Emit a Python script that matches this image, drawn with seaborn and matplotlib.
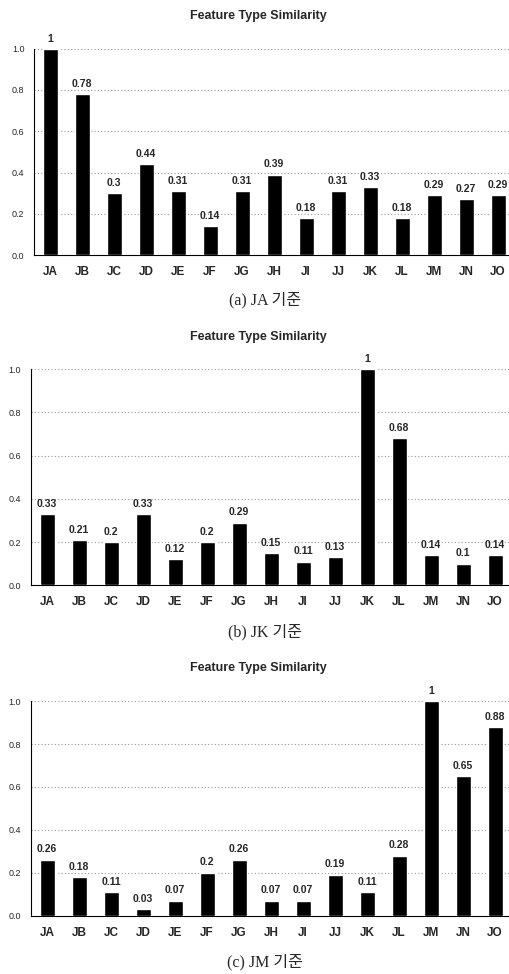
import matplotlib
matplotlib.use("Agg")
import matplotlib.pyplot as plt
import seaborn as sns
import pandas as pd

categories = ["JA", "JB", "JC", "JD", "JE", "JF", "JG", "JH",
              "JI", "JJ", "JK", "JL", "JM", "JN", "JO"]
sim_ja = [1, 0.78, 0.3, 0.44, 0.31, 0.14, 0.31, 0.39,
          0.18, 0.31, 0.33, 0.18, 0.29, 0.27, 0.29]
sim_jk = [0.33, 0.21, 0.2, 0.33, 0.12, 0.2, 0.29, 0.15,
          0.11, 0.13, 1, 0.68, 0.14, 0.1, 0.14]
sim_jm = [0.26, 0.18, 0.11, 0.03, 0.07, 0.2, 0.26, 0.07,
          0.07, 0.19, 0.11, 0.28, 1, 0.65, 0.88]
captions = ["(a) JA 기준", "(b) JK 기준", "(c) JM 기준"]
title = "Feature Type Similarity"
yticks = [0.0, 0.2, 0.4, 0.6, 0.8, 1.0]

sns.set_style("white")
plt.rcParams["font.family"] = ["Liberation Sans", "Noto Sans CJK KR"]

fig = plt.figure(figsize=(5.09, 9.74), dpi=100)

# axes boxes: [left, bottom, width, height] + title / caption y
panels = [
    ([0.067, 0.738, 0.943, 0.212], 0.984, 0.692),
    ([0.061, 0.399, 0.943, 0.222], 0.654, 0.351),
    ([0.061, 0.060, 0.943, 0.220], 0.314, 0.012),
]


def sim_panel(ax, values):
    df = pd.DataFrame({"cat": categories, "val": values})
    sns.barplot(data=df, x="cat", y="val", color="black", width=0.47,
                saturation=1, ax=ax, zorder=3)
    for y in yticks[1:]:
        ax.axhline(y, color="#999999", linestyle=(0, (1, 2)),
                   linewidth=0.8, zorder=1)
    for i, v in enumerate(values):
        ax.text(i, v + 0.025, f"{v:g}", ha="center", va="bottom",
                fontsize=7.5, fontweight="bold")
    ax.set_xlim(-0.5, 14.5)
    ax.set_ylim(0, 1.0)
    ax.set_yticks(yticks)
    ax.set_yticklabels([f"{t:.1f}" for t in yticks], fontsize=6.5)
    ax.tick_params(axis="x", labelsize=8.5, length=0, pad=8)
    ax.tick_params(axis="y", length=0, pad=7)
    for label in ax.get_xticklabels():
        label.set_fontweight("bold")
    ax.set_xlabel("")
    ax.set_ylabel("")
    ax.spines["top"].set_visible(False)
    ax.spines["right"].set_visible(False)
    ax.spines["left"].set_color("black")
    ax.spines["left"].set_linewidth(0.8)
    ax.spines["bottom"].set_color("black")
    ax.spines["bottom"].set_linewidth(0.8)


for (box, ty, cy), values, cap in zip(panels, [sim_ja, sim_jk, sim_jm], captions):
    ax = fig.add_axes(box)
    sim_panel(ax, values)
    fig.text(0.507, ty, title, ha="center", va="center",
             fontsize=9, fontweight="bold")
    fig.text(0.52, cy, cap, ha="center", va="center", fontsize=11.5,
             family=["Liberation Serif", "Noto Sans CJK KR"])

plt.savefig("out.png", dpi=100)
plt.close()
